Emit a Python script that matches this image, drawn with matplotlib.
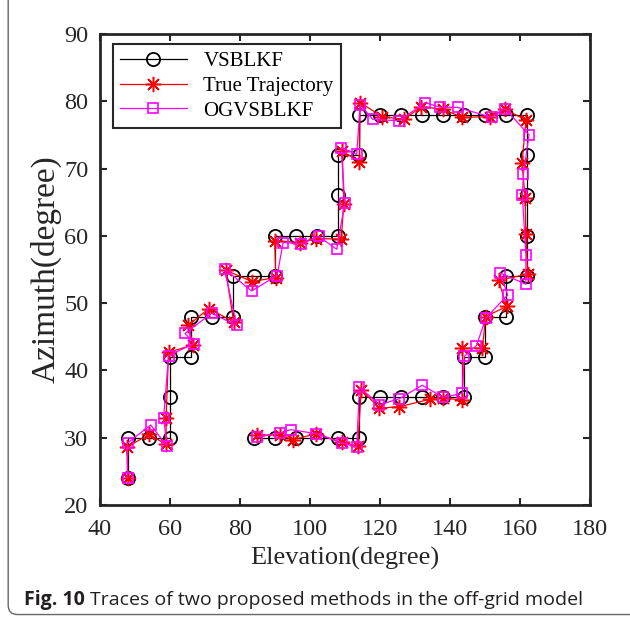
import numpy as np
import matplotlib.pyplot as plt
from matplotlib.patches import FancyBboxPatch

# grid trajectory estimated by VSBLKF (on-grid)
vs_x = [48, 48, 54, 60, 60, 60, 66, 66, 72, 78, 78, 84, 90, 90, 96, 102, 108, 108, 108, 114,
        114, 120, 126, 132, 138, 144, 150, 156, 162, 162, 162, 162, 162, 156, 156, 150, 150, 144, 144, 138,
        132, 126, 120, 114, 114, 108, 102, 96, 90, 84]
vs_y = [24, 30, 30, 30, 36, 42, 42, 48, 48, 48, 54, 54, 54, 60, 60, 60, 60, 66, 72, 72,
        78, 78, 78, 78, 78, 78, 78, 78, 78, 72, 66, 60, 54, 54, 48, 48, 42, 42, 36, 36,
        36, 36, 36, 36, 30, 30, 30, 30, 30, 30]

# true trajectory
true_x = [48, 47.8, 54.2, 59.0, 59.0, 59.7, 66.8, 65.3, 71.2, 78.3, 76.0, 83.5, 90.3, 90.0, 97.1, 101.9,
          109.0, 109.7, 109.3, 114.2, 114.4, 120.7, 127.0, 131.8, 138.0, 143.6, 151.5, 155.8, 161.7, 160.6,
          161.5, 161.7, 162.2, 153.9, 156.2, 150.2, 149.3, 143.6, 143.6, 138.1, 134.2, 125.6, 119.9, 114.7,
          113.7, 109.3, 101.9, 95.2, 91.4, 85.0]
true_y = [24, 28.6, 30.5, 29.0, 33.0, 42.7, 43.8, 46.7, 49.2, 47.2, 54.9, 53.2, 53.8, 59.3, 59.0, 59.6,
          59.5, 64.8, 72.6, 71.0, 79.8, 77.7, 77.3, 79.2, 78.8, 77.6, 77.7, 78.8, 77.2, 70.8,
          65.6, 60.3, 54.3, 53.4, 49.5, 48.0, 43.3, 43.3, 35.6, 35.9, 35.7, 34.6, 34.4, 37.1,
          28.8, 29.3, 30.6, 29.7, 30.4, 30.4]

# off-grid estimate OGVSBLKF
og_x = [48, 48.0, 54.6, 59.2, 58.3, 59.7, 67.0, 64.4, 72.0, 79.1, 75.7, 83.4, 90.7, 92.4, 97.6, 102.6,
        107.7, 110.0, 109.0, 113.4, 114.4, 118.0, 125.6, 132.9, 137.2, 142.2, 151.9, 155.7, 162.6, 161.0,
        160.7, 161.7, 161.7, 154.3, 156.5, 150.3, 147.6, 144.1, 143.6, 138.1, 132.1, 125.6, 119.9, 114.2,
        113.4, 109.3, 101.9, 94.6, 91.4, 85.0]
og_y = [24, 29.2, 31.9, 28.8, 33.0, 42.2, 44.0, 45.5, 48.5, 46.7, 55.1, 51.8, 54.1, 59.0, 58.8, 59.9,
        58.0, 64.9, 73.1, 72.1, 79.5, 77.3, 77.1, 79.8, 79.1, 79.1, 77.6, 78.9, 75.0, 69.2,
        66.1, 57.1, 52.8, 54.5, 51.2, 47.8, 43.7, 42.1, 36.6, 36.0, 37.8, 35.8, 34.9, 37.5,
        28.6, 29.2, 30.6, 31.2, 30.7, 30.1]

xticks = np.arange(40, 181, 20)
yticks = np.arange(20, 91, 10)

plt.rcParams['font.family'] = ['Liberation Serif', 'DejaVu Serif']

fig = plt.figure(figsize=(6.3, 6.17), dpi=100)
ax = fig.add_axes([0.158, 0.1815, 0.7785, 0.7635])

asterisk = (8, 2, 0)
ax.plot(vs_x, vs_y, color='black', lw=0.9, marker='o', ms=9.5, mfc='none', mew=1.3, label='VSBLKF')
ax.plot(true_x, true_y, color='red', lw=0.9, marker=asterisk, ms=11, mew=1.1, label='True Trajectory')
ax.plot(og_x, og_y, color='magenta', lw=0.9, marker='s', ms=7.5, mfc='none', mew=1.2, label='OGVSBLKF')

ax.set_xlim(40, 180)
ax.set_ylim(20, 90)
ax.set_xticks(xticks)
ax.set_yticks(yticks)
ax.tick_params(direction='in', length=5, width=1.5, top=True, right=True, labelsize=17.5,
               colors='#262626')
ax.tick_params(axis='x', pad=10)
ax.tick_params(axis='y', pad=8)
for s in ax.spines.values():
    s.set_linewidth(2)
    s.set_color('#262626')
ax.set_xlabel('Elevation(degree)', fontsize=19, color='#262626', labelpad=5)
ax.set_ylabel('Azimuth(degree)', fontsize=24, color='#262626', labelpad=2)

leg = ax.legend(loc='upper left', bbox_to_anchor=(0.027, 0.978), fontsize=15, fancybox=False,
                edgecolor='#262626', framealpha=1, borderpad=0.35, handlelength=3.2,
                labelspacing=0.25, borderaxespad=0)
leg.get_frame().set_linewidth(1.5)

# caption under the plot: bold label followed by the plain text
fig.canvas.draw()
r = fig.canvas.get_renderer()
t1 = fig.text(0.038, 0.02, 'Fig. 10 ', fontsize=14, fontweight='bold', family='Open Sans',
              color='#231f20')
bb = t1.get_window_extent(renderer=r)
fig.text(bb.x1 / fig.bbox.width, 0.02, 'Traces of two proposed methods in the off-grid model',
         fontsize=14, family='Open Sans', color='#231f20')

# rounded frame around the figure panel
frame = FancyBboxPatch((0.013, 0.004), 1.2, 1.2, boxstyle='round,pad=0,rounding_size=0.015',
                       transform=fig.transFigure, fill=False, edgecolor='#666666', lw=1.0)
fig.patches.append(frame)

fig.savefig('out.png', dpi=100)
